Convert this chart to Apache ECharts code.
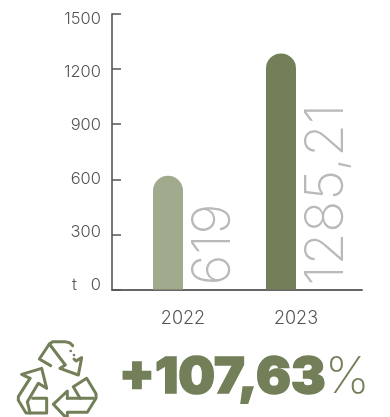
<!DOCTYPE html>
<html>
<head>
<meta charset="utf-8">
<style>html,body{margin:0;padding:0;background:#fff}#chart{width:390px;height:417px}</style>
<script src="https://cdn.jsdelivr.net/npm/echarts@6/dist/echarts.min.js"></script>
</head>
<body>
<div id="chart"></div>
<script>
// Recycled tonnage per year
const years = ['2022', '2023'];
const tonnes = [619, 1285.21];
const barColors = ['#a2aa8e', '#727f58'];
const yTicks = [0, 300, 600, 900, 1200, 1500];
const growthText = '+107,63';
const percentText = '%';

const DARK = '#555555', GREEN = '#727f58', FONT = 'Inter, Lato, sans-serif';

// Outline strokes of the recycling symbol, in a local 3x grid
const recycleStrokes = [
  [[122,92],[88,72],[118,27],[128,20],[165,20],[180,24],[188,32]],
  [[118,27],[166,90],[150,100],[205,120],[215,68],[198,78],[192,72]],
  [[60,130],[35,118],[95,100],[110,160],[85,145],[52,200],[60,234]],
  [[60,130],[25,185],[25,196],[48,234],[110,234],[110,190],[68,190]],
  [[172,190],[172,168],[130,208],[172,252],[172,232],[232,232],[258,190],[258,176],[230,130],[190,155],[210,190]],
  [[172,190],[250,190]]
];
const recycleDots = [[182,48],[192,60]];

const chart = echarts.init(document.getElementById('chart'), null, {renderer: 'canvas'});

chart.setOption({
  animation: false,
  backgroundColor: '#ffffff',
  grid: [
    {left: 126.5, width: 226, top: 14, height: 275.5},
    {left: 112, width: 250, top: 14, height: 275.5},
    // tick labels sit on their own slightly tighter scale beside the ticks
    {left: 126.5, width: 226, top: 19, height: 266}
  ],
  xAxis: [
    {
      type: 'category', gridIndex: 0, data: years,
      axisLine: {show: false}, axisTick: {show: false},
      axisLabel: {color: DARK, fontFamily: FONT, fontWeight: 300, fontSize: 18, margin: 20}
    },
    {
      type: 'category', gridIndex: 1, data: [],
      axisLine: {show: true, lineStyle: {color: '#666666', width: 2}},
      axisTick: {show: false}, axisLabel: {show: false}
    },
    {type: 'category', gridIndex: 2, data: [], show: false}
  ],
  yAxis: [
    {
      type: 'value', gridIndex: 0, min: 0, max: 1500, interval: 300, offset: 14.5,
      axisLine: {show: true, lineStyle: {color: '#777777', width: 2}},
      axisTick: {show: true, inside: true, length: 9, lineStyle: {color: '#555555', width: 1.5}},
      splitLine: {show: false},
      axisLabel: {show: false}
    },
    {type: 'value', gridIndex: 1, min: 0, max: 1500, show: false},
    {
      type: 'value', gridIndex: 2, min: 0, max: 1500, interval: 300, offset: 14.5,
      axisLine: {show: false}, axisTick: {show: false}, splitLine: {show: false},
      axisLabel: {
        color: DARK, fontFamily: FONT, fontWeight: 300, fontSize: 16.5, margin: 11,
        formatter: v => (v === yTicks[0] ? 't   ' + v : String(v))
      }
    }
  ],
  series: [
    {
      type: 'bar', xAxisIndex: 0, yAxisIndex: 0, barWidth: 30, barGap: '0%',
      data: tonnes.map((v, i) => ({value: v, itemStyle: {color: barColors[i]}})),
      itemStyle: {borderRadius: [15, 15, 0, 0]}
    },
    {
      // transparent companion bars carry the rotated value labels
      type: 'bar', xAxisIndex: 0, yAxisIndex: 0, barWidth: 30,
      data: tonnes,
      itemStyle: {color: 'rgba(0,0,0,0)'},
      label: {
        show: true, position: 'insideBottom', rotate: 90, distance: 9,
        align: 'left', verticalAlign: 'middle', offset: [-5, 16],
        color: '#b9b9b9', fontFamily: FONT, fontWeight: 200, fontSize: 53,
        formatter: p => String(p.value).replace('.', ',')
      }
    }
  ],
  graphic: [
    {
      type: 'group', x: 10, y: 335, scaleX: 1 / 3, scaleY: 1 / 3,
      children: recycleStrokes.map(points => ({
        type: 'polyline', shape: {points},
        style: {stroke: GREEN, lineWidth: 9, fill: null, lineJoin: 'round', lineCap: 'round'}
      })).concat(recycleDots.map(([cx, cy]) => ({
        type: 'circle', shape: {cx, cy, r: 4}, style: {fill: GREEN}
      })))
    },
    {
      type: 'text', x: 119, y: 378, scaleX: 1.035,
      style: {
        text: growthText, fill: GREEN, stroke: GREEN, lineWidth: 1.5,
        font: '900 50px Inter, Lato, sans-serif', textVerticalAlign: 'middle'
      }
    },
    {
      type: 'text', x: 325, y: 378,
      style: {text: percentText, fill: GREEN, font: '200 50px Inter, Lato, sans-serif', textVerticalAlign: 'middle'}
    }
  ]
});
</script>
</body>
</html>
